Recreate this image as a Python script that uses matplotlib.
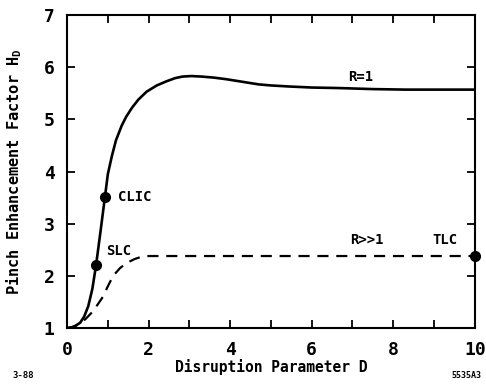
import matplotlib
matplotlib.use("Agg")
import matplotlib.pyplot as plt

# Pinch enhancement factor vs. disruption parameter
d_r1 = [0, 0.1, 0.2, 0.32, 0.42, 0.52, 0.62, 0.71, 0.82, 0.93, 1.0, 1.1,
        1.2, 1.34, 1.45, 1.59, 1.75, 1.95, 2.2, 2.44, 2.65, 2.83, 3.05, 3.3,
        3.6, 3.9, 4.3, 4.7, 5.0, 5.44, 6.0, 6.66, 7.5, 8.3, 9.0, 10]
h_r1 = [1, 1.01, 1.04, 1.1, 1.22, 1.42, 1.75, 2.2, 2.85, 3.52, 3.95, 4.3,
        4.6, 4.88, 5.05, 5.22, 5.38, 5.53, 5.65, 5.73, 5.79, 5.82, 5.83, 5.82,
        5.8, 5.77, 5.72, 5.67, 5.65, 5.63, 5.61, 5.6, 5.58, 5.57, 5.57, 5.57]

d_rbig = [0, 0.15, 0.3, 0.45, 0.61, 0.75, 0.88, 1.0, 1.13, 1.3, 1.47, 1.65,
          1.8, 2.0, 10]
h_rbig = [1, 1.02, 1.08, 1.17, 1.3, 1.45, 1.6, 1.8, 2.0, 2.15, 2.25, 2.32,
          2.36, 2.38, 2.38]

machines = ["SLC", "CLIC", "TLC"]
machine_d = [0.71, 0.93, 10]
machine_h = [2.2, 3.52, 2.38]

x_ticks = list(range(0, 11))
x_labels = ["0", "", "2", "", "4", "", "6", "", "8", "", "10"]
y_ticks = list(range(1, 8))

fig = plt.figure(figsize=(4.86, 3.85), dpi=100)
ax = fig.add_axes([0.138, 0.148, 0.839, 0.813])

ax.plot(d_r1, h_r1, color="black", lw=1.9, solid_capstyle="round",
        solid_joinstyle="round")
ax.plot(d_rbig, h_rbig, color="black", lw=1.6, dashes=(5, 3.5))
ax.plot(machine_d, machine_h, "o", color="black", ms=7, clip_on=False, zorder=5)

ax.set_xlim(0, 10)
ax.set_ylim(1, 7)
ax.set_xticks(x_ticks)
ax.set_xticklabels(x_labels)
ax.set_yticks(y_ticks)

for s in ax.spines.values():
    s.set_linewidth(1.5)

ax.tick_params(direction="in", length=6, width=1.3, top=True, right=True,
               labelsize=13, pad=9)

mono = "DejaVu Sans Mono"
for lbl in ax.get_xticklabels() + ax.get_yticklabels():
    lbl.set_family(mono)
    lbl.set_fontweight("bold")

ax.set_xlabel("Disruption Parameter D", family=mono, fontsize=10.5,
              fontweight="bold", labelpad=0)
ax.set_ylabel("Pinch Enhancement Factor $\\mathregular{H_D}$", family=mono,
              fontsize=11, fontweight="bold", labelpad=14)

txt = dict(family=mono, fontsize=10, fontweight="bold", va="center")
ax.text(1.25, 3.52, "CLIC", ha="left", **txt)
ax.text(0.97, 2.48, "SLC", ha="left", **txt)
ax.text(6.9, 5.82, "R=1", ha="left", **txt)
ax.text(6.95, 2.68, "R>>1", ha="left", **txt)
ax.text(8.95, 2.68, "TLC", ha="left", **txt)

fig.text(0.025, 0.012, "3-88", family=mono, fontsize=6.5, fontweight="bold",
         ha="left", va="bottom")
fig.text(0.99, 0.012, "5535A3", family=mono, fontsize=6, fontweight="bold",
         ha="right", va="bottom")

fig.savefig("out.png", dpi=100)
